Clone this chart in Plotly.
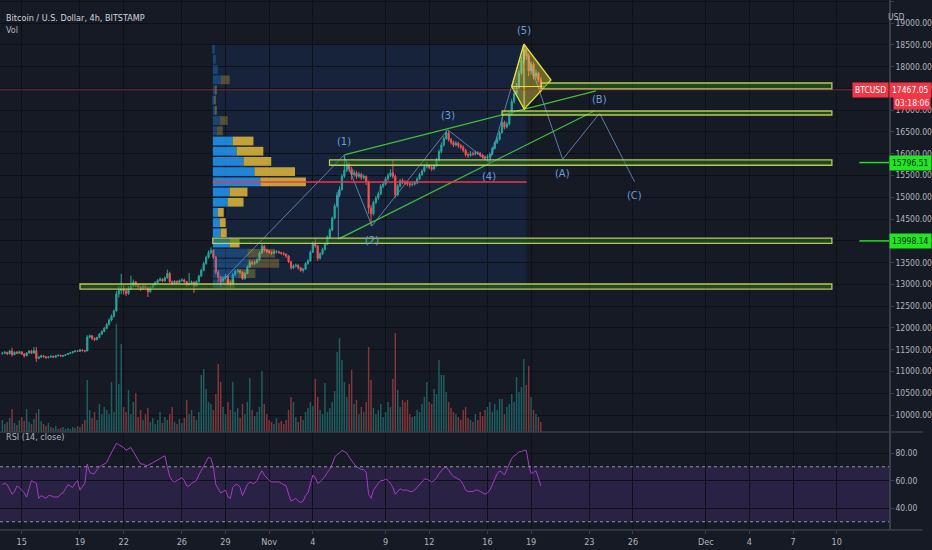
import pandas as pd
import plotly.graph_objects as go

# ---- BTCUSD 4h candles (Bitstamp), first bar opens Oct 13 16:00 ----
first_open = 11410
closes = [
    11420, 11436,
    11405, 11470, 11385, 11442, 11418, 11452,
    11398, 11362, 11428, 11470, 11421, 11480,
    11300, 11330, 11362, 11340, 11318, 11335,
    11352, 11328, 11360, 11372, 11350, 11366,
    11390, 11410, 11428, 11455, 11470, 11462,
    11492, 11478, 11470, 11790, 11820, 11760,
    11730, 11780, 11860, 11920, 11990, 12080,
    12180, 12270, 12390, 12780, 12860, 12900,
    12850, 12790, 12900, 12960, 13050, 12980,
    12940, 12890, 12960, 12920, 12830, 12930,
    12990, 13040, 13090, 13120, 13080, 13150,
    13250, 13060, 13020, 13070, 13040, 13090,
    13100, 13060, 12990, 13010, 13050, 12960,
    13060, 13190, 13320, 13480, 13620, 13730,
    13780, 13620, 13280, 13160, 13080, 13150,
    13190, 13030, 13000, 13220, 13300, 13310,
    13280, 13130, 13250, 13400, 13500, 13480,
    13500, 13560, 13720, 13880, 13790, 13760,
    13730, 13720, 13740, 13750, 13730, 13710,
    13690, 13650, 13520, 13380, 13420, 13440,
    13380, 13320, 13350, 13480, 13540, 13740,
    13940, 13880, 13600, 13700, 13800, 13920,
    14080, 14250, 14520, 14800, 15050, 15180,
    15480, 15620, 15760, 15650, 15520, 15560,
    15480, 15530, 15450, 15480, 15350, 14750,
    14620, 14880, 14980, 15080, 15250, 15300,
    15420, 15500, 15560, 15480, 15060, 15260,
    15380, 15340, 15330, 15310, 15290, 15300,
    15330, 15420, 15520, 15600, 15700, 15720,
    15680, 15650, 15720, 15850, 16050, 16200,
    16350, 16480, 16320, 16260, 16200, 16240,
    16180, 16150, 16080, 15980, 15960, 16000,
    15990, 16020, 16010, 15970, 15930, 15900,
    15930, 15990, 16120, 16250, 16330, 16480,
    16720, 16610, 16680, 16900, 17200, 17380,
    17520, 17850, 18150, 18380, 18250, 17900,
    18050, 17780, 17850, 17700, 17467.05,
]
highs = [
    11450, 11470,
    11455, 11500, 11545, 11460, 11470, 11480,
    11465, 11420, 11445, 11490, 11500, 11560,
    11560, 11350, 11380, 11375, 11355, 11350,
    11365, 11360, 11375, 11390, 11385, 11380,
    11400, 11425, 11440, 11470, 11490, 11495,
    11520, 11510, 11500, 11830, 11850, 11835,
    11785, 11800, 11880, 11945, 12020, 12110,
    12220, 12310, 12420, 12850, 12960, 13240,
    12980, 12900, 12960, 13200, 13110, 13080,
    13010, 12970, 12990, 12980, 12950, 12960,
    13010, 13070, 13120, 13160, 13140, 13180,
    13340, 13290, 13090, 13100, 13090, 13110,
    13140, 13130, 13080, 13260, 13090, 13070,
    13090, 13220, 13360, 13520, 13660, 13780,
    13850, 13810, 13650, 13330, 13200, 13190,
    13240, 13220, 13080, 13260, 13340, 13360,
    13350, 13300, 13280, 13440, 13560, 13540,
    13540, 13600, 13760, 13950, 13900, 13820,
    13790, 13760, 13780, 13790, 13770, 13750,
    13740, 13710, 13670, 13540, 13460, 13480,
    13460, 13400, 13380, 13510, 13580, 13780,
    13990, 14050, 13900, 13740, 13840, 13960,
    14120, 14290, 14560, 14850, 15120, 15250,
    15530, 15960, 15850, 15800, 15700, 15620,
    15600, 15580, 15560, 15520, 15500, 15380,
    14820, 14920, 15030, 15130, 15300, 15360,
    15470, 15550, 15640, 15860, 15520, 15300,
    15420, 15430, 15390, 15370, 15350, 15340,
    15370, 15460, 15560, 15640, 15750, 15800,
    15760, 15720, 15760, 15900, 16100, 16260,
    16400, 16550, 16520, 16360, 16300, 16290,
    16270, 16220, 16190, 16110, 16030, 16060,
    16050, 16070, 16060, 16040, 16000, 15960,
    15980, 16030, 16160, 16290, 16390, 16530,
    16840, 16760, 16730, 16950, 17260, 17560,
    17620, 17920, 18230, 18490, 18440, 18300,
    18120, 18100, 17930, 17880, 17760,
]
lows = [
    11390, 11400,
    11380, 11395, 11340, 11370, 11400, 11405,
    11380, 11320, 11350, 11410, 11400, 11415,
    11220, 11280, 11310, 11320, 11290, 11300,
    11320, 11310, 11315, 11345, 11335, 11340,
    11355, 11380, 11400, 11415, 11440, 11445,
    11450, 11460, 11440, 11465, 11760, 11720,
    11700, 11715, 11765, 11840, 11900, 11970,
    12060, 12150, 12240, 12380, 12700, 12780,
    12760, 12730, 12760, 12870, 12930, 12940,
    12900, 12850, 12870, 12880, 12710, 12810,
    12910, 12970, 13020, 13070, 13050, 13060,
    13130, 13030, 12980, 13000, 13010, 13020,
    13060, 13030, 12950, 12970, 12980, 12800,
    12940, 13040, 13170, 13300, 13450, 13590,
    13690, 13580, 13230, 13050, 12940, 13040,
    13110, 12990, 12960, 12980, 13190, 13270,
    13240, 13100, 13110, 13230, 13380, 13440,
    13450, 13480, 13540, 13700, 13750, 13720,
    13700, 13680, 13700, 13710, 13700, 13680,
    13660, 13610, 13490, 13340, 13350, 13390,
    13340, 13290, 13270, 13330, 13450, 13520,
    13720, 13840, 13540, 13570, 13670, 13780,
    13900, 14050, 14220, 14490, 14760, 15000,
    15150, 15440, 15580, 15580, 15400, 15470,
    15420, 15440, 15400, 15410, 15280, 14620,
    14340, 14580, 14840, 14940, 15050, 15210,
    15270, 15380, 15460, 15430, 14990, 15020,
    15230, 15300, 15280, 15260, 15230, 15250,
    15270, 15300, 15400, 15490, 15570, 15660,
    15640, 15600, 15620, 15700, 15820, 16010,
    16160, 16320, 16280, 16210, 16150, 16170,
    16130, 16100, 16030, 15930, 15900, 15930,
    15950, 15960, 15970, 15920, 15880, 15850,
    15820, 15800, 15970, 16100, 16220, 16300,
    16460, 16560, 16580, 16650, 16880, 17150,
    17320, 17480, 17800, 18080, 18150, 17780,
    17820, 17700, 17720, 17640, 17420,
]
volumes = [
    120, 80,
    100, 140, 230, 90, 70, 120,
    150, 110, 230, 100, 80, 130,
    190, 230, 110, 80, 60, 90,
    50, 40, 60, 30, 40, 50,
    30, 40, 30, 50, 40, 60,
    50, 80, 120, 520, 220, 140,
    200, 120, 280, 180, 250, 220,
    180, 500, 200, 1080, 480, 880,
    250, 200, 420, 180, 300, 390,
    150, 220, 120, 180, 240, 100,
    140, 80, 120, 200, 90, 150,
    120, 180, 250, 100, 80, 130,
    90, 140, 320, 180, 220, 160,
    120, 200, 570, 630, 430, 300,
    280, 220, 380, 680, 500, 250,
    180, 300, 220, 500, 200, 240,
    140, 280, 180, 300, 540, 220,
    160, 200, 250, 610, 280, 180,
    120, 100, 80, 140, 90, 110,
    80, 120, 220, 350, 300, 150,
    100, 160, 120, 200, 240, 300,
    260, 530, 350, 220, 180, 490,
    200, 240, 300, 410, 800, 940,
    720, 500, 350, 480, 620, 280,
    320, 180, 250, 200, 300, 850,
    520, 240, 180, 220, 280, 150,
    200, 300, 250, 530, 990, 420,
    250, 320, 300, 320, 180, 150,
    160, 220, 200, 280, 350, 500,
    300, 280, 430, 380, 720, 570,
    570, 400, 300, 240, 200, 180,
    150, 120, 220, 250, 140, 120,
    100, 180, 120, 200, 160, 220,
    250, 300, 200, 280, 220, 330,
    330, 180, 250, 280, 380, 300,
    550, 400, 450, 730, 470, 660,
    350, 220, 180, 150, 100,
]
rsi = [
    57, 58, 57, 53, 50, 52, 56, 55, 53, 51,
    48, 55, 60, 59, 58, 47, 49, 48, 47, 49,
    49, 48, 48, 48, 50, 51, 54, 57, 56, 55,
    58, 60, 53, 56, 58, 72, 66, 65, 65, 68,
    70, 71, 72, 73, 77, 80, 83, 87, 86, 85,
    84, 82, 83, 84, 81, 78, 75, 72, 72, 71,
    71, 72, 73, 74, 75, 76, 77, 78, 70, 63,
    60, 59, 60, 61, 62, 60, 56, 56, 58, 59,
    60, 64, 67, 71, 74, 77, 76, 70, 57, 54,
    51, 52, 53, 48, 47, 55, 57, 57, 55, 49,
    53, 57, 59, 58, 58, 60, 64, 67, 64, 62,
    60, 59, 59, 59, 59, 58, 57, 56, 50, 45,
    46, 47, 45, 44, 45, 49, 51, 58, 64, 62,
    58, 59, 61, 63, 66, 68, 72, 77, 79, 80,
    82, 81, 80, 77, 74, 72, 70, 69, 68, 68,
    66, 50, 47, 53, 56, 58, 60, 60, 61, 60,
    58, 55, 50, 52, 54, 53, 53, 53, 52, 52,
    53, 55, 57, 59, 61, 61, 60, 59, 60, 62,
    65, 67, 69, 70, 67, 65, 63, 62, 61, 60,
    57, 53, 52, 52, 52, 53, 53, 52, 51, 50,
    51, 53, 57, 61, 65, 67, 66, 64, 68, 72,
    76, 78, 79, 81, 81, 82, 82, 72, 65, 66,
    67, 62, 56,
]

# ---- fixed range volume profile (top row first) ----
profile_start = "2020-10-28 03:00"
profile_end = "2020-11-18 16:45"
profile_top = 18516
profile_bottom = 12896
profile_prices = [18399, 18165, 17931, 17696, 17462, 17228, 16994, 16760,
                  16525, 16291, 16057, 15823, 15589, 15354, 15120, 14886,
                  14652, 14418, 14183, 13949, 13715, 13481, 13247, 13013]
profile_up = [200, 300, 500, 800, 300, 200, 300, 700, 400, 2000, 2400, 3100,
              4200, 4800, 1700, 1500, 500, 700, 800, 1700, 3500, 3500, 2500, 1200]
profile_down = [0, 0, 0, 900, 100, 100, 100, 800, 600, 2100, 2700, 2800,
                4100, 4600, 1800, 1600, 600, 600, 600, 1000, 2800, 3200, 1800, 1000]
value_area = [False] * 9 + [True] * 11 + [False] * 4
poc_price = 15350

# ---- horizontal zones ----
zone_starts = ["2020-10-19 00:00", "2020-10-28 03:00", "2020-11-05 03:30",
               "2020-11-17 00:00", "2020-11-19 17:00"]
zone_lows = [12893, 13940, 15735, 16888, 17485]
zone_highs = [13008, 14060, 15858, 16980, 17623]
zone_end = "2020-12-09 16:00"
alert_prices = [15796.51, 13998.14]
last_price = 17467.05

# ---- elliott wave count ----
wave_labels = ["", "(1)", "(2)", "(3)", "(4)", "(5)", "(A)", "(B)", "(C)"]
wave_times = ["2020-10-28 14:30", "2020-11-06 03:00", "2020-11-08 01:30",
              "2020-11-13 06:30", "2020-11-16 03:00", "2020-11-18 12:00",
              "2020-11-21 04:00", "2020-11-23 17:00", "2020-11-26 02:30"]
wave_prices = [13020, 15960, 14340, 16550, 15800, 18500, 15870, 16927, 15357]
label_above = [True, True, False, True, False, True, False, True, False]

# ---- channel lines ----
upper_times = ["2020-11-06 04:00", "2020-11-23 11:00"]
upper_prices = [15970, 17440]
lower_times = ["2020-11-05 18:00", "2020-11-23 08:00"]
lower_prices = [14040, 16980]
stem_times = ["2020-11-05 18:00", "2020-11-05 18:00"]
stem_prices = [14040, 15170]

# ---- diamond at the top ----
diamond_times = ["2020-11-18 12:00", "2020-11-20 08:45", "2020-11-18 12:30",
                 "2020-11-17 16:00", "2020-11-18 12:00"]
diamond_prices = [18518, 17691, 17023, 17542, 18518]
diamond_hline_times = ["2020-11-17 16:00", "2020-11-19 22:50"]

tick_dates = ["2020-10-15", "2020-10-19", "2020-10-22", "2020-10-26", "2020-10-29",
              "2020-11-01", "2020-11-04", "2020-11-09", "2020-11-12", "2020-11-16",
              "2020-11-19", "2020-11-23", "2020-11-26", "2020-12-01", "2020-12-04",
              "2020-12-07", "2020-12-10"]
tick_text = ["15", "19", "22", "26", "29", "Nov", "4", "9", "12", "16", "19",
             "23", "26", "Dec", "4", "7", "10"]

BG = "#161a25"
GRID = "#0d1017"
TXT = "#b2b5be"
UP = "#26a69a"
DOWN = "#ef5350"
FONT = "Liberation Sans Narrow, DejaVu Sans Condensed, Roboto, sans-serif"
SPLIT = 98 / 530  # rsi pane share of the plot height

times = pd.date_range("2020-10-13 16:00", periods=len(closes), freq="4h")
opens = [first_open] + closes[:-1]
vol_colors = ["rgba(38,166,154,0.5)" if c >= o else "rgba(239,83,80,0.5)"
              for o, c in zip(opens, closes)]

fig = go.Figure()

# volume
fig.add_trace(go.Bar(x=times, y=volumes, marker_color=vol_colors, marker_line_width=0,
                     width=4 * 3600 * 1000 * 0.6, xaxis="x", yaxis="y", hoverinfo="skip"))

# candles
fig.add_trace(go.Candlestick(
    x=times, open=opens, high=highs, low=lows, close=closes,
    xaxis="x", yaxis="y2",
    increasing=dict(line=dict(color=UP, width=1), fillcolor=UP),
    decreasing=dict(line=dict(color=DOWN, width=1), fillcolor=DOWN),
))

# volume profile
blue_op = [0.85 if v else 0.3 for v in value_area]
gold_op = [0.85 if v else 0.3 for v in value_area]
row_h = (profile_top - profile_bottom) / len(profile_prices)
fig.add_trace(go.Bar(y=profile_prices, x=profile_up, orientation="h", width=row_h * 0.86,
                     marker=dict(color="#2196f3", opacity=blue_op, line_width=0),
                     xaxis="x2", yaxis="y2", hoverinfo="skip"))
fig.add_trace(go.Bar(y=profile_prices, x=profile_down, base=profile_up, orientation="h",
                     width=row_h * 0.86,
                     marker=dict(color="#e0b83a", opacity=gold_op, line_width=0),
                     xaxis="x2", yaxis="y2", hoverinfo="skip"))

# channel and wave lines
fig.add_trace(go.Scatter(x=upper_times, y=upper_prices, mode="lines", yaxis="y2",
                         line=dict(color="#3fc23a", width=1.3), hoverinfo="skip"))
fig.add_trace(go.Scatter(x=lower_times, y=lower_prices, mode="lines", yaxis="y2",
                         line=dict(color="#3fc23a", width=1.3), hoverinfo="skip"))
fig.add_trace(go.Scatter(x=stem_times, y=stem_prices, mode="lines", yaxis="y2",
                         line=dict(color="rgba(110,150,200,0.75)", width=1), hoverinfo="skip"))
fig.add_trace(go.Scatter(x=wave_times, y=wave_prices, mode="lines", yaxis="y2",
                         line=dict(color="rgba(110,150,200,0.8)", width=1), hoverinfo="skip"))

# diamond
fig.add_trace(go.Scatter(x=diamond_times, y=diamond_prices, mode="lines", fill="toself",
                         fillcolor="rgba(245,230,60,0.38)", yaxis="y2",
                         line=dict(color="#e6dc3c", width=1.3), hoverinfo="skip"))
fig.add_trace(go.Scatter(x=[diamond_times[0], diamond_times[2]],
                         y=[diamond_prices[0], diamond_prices[2]], mode="lines", yaxis="y2",
                         line=dict(color="#e6dc3c", width=1), hoverinfo="skip"))
fig.add_trace(go.Scatter(x=diamond_hline_times, y=[diamond_prices[3]] * 2, mode="lines",
                         yaxis="y2", line=dict(color="#e6dc3c", width=1), hoverinfo="skip"))

# rsi
fig.add_trace(go.Scatter(x=times, y=rsi, mode="lines", xaxis="x", yaxis="y3",
                         line=dict(color="#a43cc4", width=1), hoverinfo="skip"))

shapes = []
# rsi band and levels
shapes.append(dict(type="rect", xref="paper", yref="y3", x0=0, x1=1, y0=30, y1=70,
                   fillcolor="rgba(120,70,200,0.2)", line_width=0, layer="below"))
for lvl in (70, 30):
    shapes.append(dict(type="line", xref="paper", yref="y3", x0=0, x1=1, y0=lvl, y1=lvl,
                       line=dict(color="#9598a1", width=1, dash="3px,3px")))
# pane separators
for yy in (SPLIT, 0):
    shapes.append(dict(type="line", xref="paper", yref="paper", x0=0, x1=932 / 898,
                       y0=yy, y1=yy, line=dict(color="#3a3e4a", width=1.5)))
# profile background and poc
shapes.append(dict(type="rect", xref="x", yref="y2", x0=profile_start, x1=profile_end,
                   y0=profile_bottom, y1=profile_top,
                   fillcolor="rgba(33,110,220,0.12)", line_width=0, layer="below"))
shapes.append(dict(type="line", xref="x", yref="y2", x0=profile_start, x1=profile_end,
                   y0=poc_price, y1=poc_price, line=dict(color="#f23645", width=1.5)))
# zones
for x0, lo, hi in zip(zone_starts, zone_lows, zone_highs):
    shapes.append(dict(type="rect", xref="x", yref="y2", x0=x0, x1=zone_end, y0=lo, y1=hi,
                       fillcolor="rgba(40,120,30,0.5)",
                       line=dict(color="rgba(205,215,95,0.9)", width=1.3)))
# last price line
shapes.append(dict(type="line", xref="paper", yref="y2", x0=0, x1=1,
                   y0=last_price, y1=last_price,
                   line=dict(color="rgba(200,45,60,0.6)", width=1)))
# alert stubs
for p in alert_prices:
    shapes.append(dict(type="line", xref="paper", yref="y2", x0=868 / 898, x1=1,
                       y0=p, y1=p, line=dict(color="#22e022", width=1.5)))

annotations = []
for lab, t, p, up in zip(wave_labels, wave_times, wave_prices, label_above):
    if lab:
        annotations.append(dict(x=t, y=p, xref="x", yref="y2", text=lab, showarrow=False,
                                yshift=14 if up else -14,
                                font=dict(color="#6a9fd8", size=11, family=FONT)))

annotations += [
    dict(x=0.004, y=1 - 11 / 530, xref="paper", yref="paper", xanchor="left",
         text="Bitcoin / U.S. Dollar, 4h, BITSTAMP", showarrow=False,
         font=dict(color="#d1d4dc", size=9, family=FONT)),
    dict(x=0.004, y=1 - 23 / 530, xref="paper", yref="paper", xanchor="left",
         text="Vol", showarrow=False, font=dict(color=TXT, size=9, family=FONT)),
    dict(x=0.004, y=(530 - 444) / 530, xref="paper", yref="paper", xanchor="left",
         text="RSI (14, close)", showarrow=False, font=dict(color=TXT, size=9, family=FONT)),
    dict(x=915 / 898, y=1 - 10 / 530, xref="paper", yref="paper", text="USD",
         showarrow=False, font=dict(color=TXT, size=8.5, family=FONT)),
    dict(x=1, y=last_price, xref="paper", yref="y2", xanchor="right", text="BTCUSD",
         showarrow=False, bgcolor="#f23645", borderpad=2,
         font=dict(color="white", size=8.5, family=FONT)),
    dict(x=1, y=last_price, xref="paper", yref="y2", xanchor="left",
         text=f"{last_price:.2f}", showarrow=False, bgcolor="#f23645", borderpad=2,
         font=dict(color="white", size=8.5, family=FONT)),
    dict(x=1, y=last_price, xref="paper", yref="y2", xanchor="left", xshift=4, yshift=-13,
         text="03:18:06", showarrow=False, bgcolor="#f23645", borderpad=1,
         font=dict(color="white", size=8.5, family=FONT)),
]
for p in alert_prices:
    annotations.append(dict(x=1, y=p, xref="paper", yref="y2", xanchor="left",
                            text=f"{p:.2f}", showarrow=False, bgcolor="#1ee81e", borderpad=2,
                            font=dict(color="#131722", size=8.5, family=FONT)))

price_ticks = list(range(10000, 20000, 500))

fig.update_layout(
    width=932, height=550,
    margin=dict(l=0, r=34, t=0, b=20),
    paper_bgcolor=BG, plot_bgcolor=BG,
    showlegend=False, barmode="overlay",
    font=dict(family=FONT, color=TXT, size=9),
    shapes=shapes, annotations=annotations,
    xaxis=dict(type="date", domain=[0, 1], anchor="y3",
               range=["2020-10-13 12:05", "2020-12-13 14:13"],
               tickvals=tick_dates, ticktext=tick_text, tickangle=0,
               showgrid=True, gridcolor=GRID, gridwidth=1,
               ticks="outside", ticklen=3, tickcolor="#3a3e4a",
               tickfont=dict(size=9, color=TXT), zeroline=False,
               rangeslider=dict(visible=False)),
    xaxis2=dict(overlaying="x", anchor="y2", range=[-21500, 68300], visible=False),
    yaxis=dict(domain=[SPLIT, 1], range=[0, 4320], visible=False, showgrid=False),
    yaxis2=dict(overlaying="y", side="right", anchor="x", range=[9611, 19528],
                tickvals=price_ticks, ticktext=[f"{v:.2f}" for v in price_ticks],
                showgrid=True, gridcolor=GRID, zeroline=False,
                showline=True, linecolor="#3a3e4a", linewidth=1.5,
                ticks="outside", ticklen=3, tickcolor="#3a3e4a",
                tickfont=dict(size=8.5, color=TXT)),
    yaxis3=dict(domain=[0, SPLIT], side="right", anchor="x", range=[24, 95.3],
                tickvals=[40, 60, 80], ticktext=["40.00", "60.00", "80.00"],
                showgrid=True, gridcolor=GRID, zeroline=False,
                showline=True, linecolor="#3a3e4a", linewidth=1.5,
                ticks="outside", ticklen=3, tickcolor="#3a3e4a",
                tickfont=dict(size=8.5, color=TXT)),
)

fig.write_html("out.html", config={"displayModeBar": False},
               post_script="document.body.style.margin='0';document.body.style.overflow='hidden';")
